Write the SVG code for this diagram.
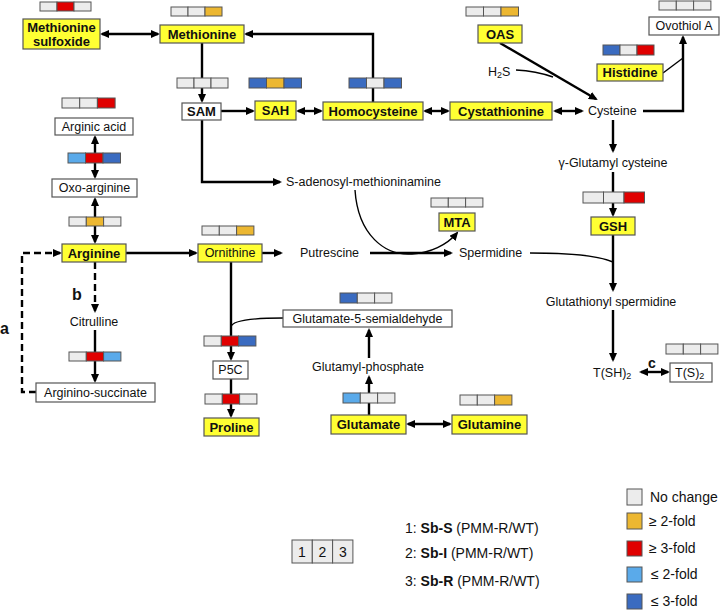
<svg xmlns="http://www.w3.org/2000/svg" width="720" height="612" viewBox="0 0 720 612">
<defs>
<style>
text{font-family:"Liberation Sans",Arial,sans-serif;fill:#111}
.lab{font-size:13px;font-weight:bold;text-anchor:middle;dominant-baseline:central}
.pl{font-size:12.5px;dominant-baseline:central}
.y{fill:#ffff33;stroke:#555;stroke-width:1.2}
.w{fill:#fff;stroke:#555;stroke-width:1.2}
.c{fill:none;stroke:#000;stroke-width:2.4}
.t{fill:none;stroke:#000;stroke-width:1.4}
.d{fill:none;stroke:#000;stroke-width:2.4;stroke-dasharray:7,4}
.g{fill:#ececec;stroke:#555;stroke-width:1}
.o{fill:#ecb731;stroke:#555;stroke-width:1}
.r{fill:#e00000;stroke:#555;stroke-width:1}
.lb{fill:#5aaaea;stroke:#555;stroke-width:1}
.db{fill:#3a6bc0;stroke:#555;stroke-width:1}
.lg{font-size:14px;dominant-baseline:central}
</style>
<marker id="ah" markerWidth="9" markerHeight="8" refX="7" refY="4" orient="auto-start-reverse" markerUnits="userSpaceOnUse">
<path d="M0,0 L9,4 L0,8 z" fill="#000"/>
</marker>
</defs>

<g id="connectors">
<path class="c" d="M102,34 H158" marker-start="url(#ah)" marker-end="url(#ah)"/>
<path class="c" d="M373,102 V34 H246" marker-end="url(#ah)"/>
<path class="c" d="M202,43 V101" marker-end="url(#ah)"/>
<path class="c" d="M221,111 H253" marker-end="url(#ah)"/>
<path class="c" d="M298,111 H321" marker-start="url(#ah)" marker-end="url(#ah)"/>
<path class="c" d="M425,111 H448" marker-start="url(#ah)" marker-end="url(#ah)"/>
<path class="c" d="M555,111 H582" marker-start="url(#ah)" marker-end="url(#ah)"/>
<path class="c" d="M500,43 L596,99" marker-end="url(#ah)"/>
<path class="t" d="M516,70 Q536,71 553,77"/>
<path class="c" d="M643,111 H683 V37" marker-end="url(#ah)"/>
<path class="t" d="M663,73 L683,58"/>
<path class="c" d="M613,120 V151" marker-end="url(#ah)"/>
<path class="c" d="M613,172 V215" marker-end="url(#ah)"/>
<path class="c" d="M613,235 V290" marker-end="url(#ah)"/>
<path class="t" d="M530,253 Q592,253 613,262"/>
<path class="c" d="M613,310 V360" marker-end="url(#ah)"/>
<path class="c" d="M641,372 H668" marker-start="url(#ah)" marker-end="url(#ah)"/>
<path class="c" d="M95,137 V177" marker-start="url(#ah)" marker-end="url(#ah)"/>
<path class="c" d="M95,199 V242" marker-start="url(#ah)" marker-end="url(#ah)"/>
<path class="d" d="M36,392 H22 V253 H60" marker-end="url(#ah)"/>
<path class="d" d="M95,262 V311" marker-end="url(#ah)"/>
<path class="c" d="M95,330 V381" marker-end="url(#ah)"/>
<path class="c" d="M126,253 H196" marker-end="url(#ah)"/>
<path class="c" d="M262,253 H281" marker-end="url(#ah)"/>
<path class="c" d="M370,253 H451" marker-end="url(#ah)"/>
<path class="c" d="M202,120 V182 H280" marker-end="url(#ah)"/>
<path class="t" d="M355,190 C358,235 385,256 412,254 C430,253 447,245 457,233" marker-end="url(#ah)"/>
<path class="c" d="M231,262 V359" marker-end="url(#ah)"/>
<path class="t" d="M283,318 Q232,318 231,327"/>
<path class="c" d="M231,379 V416" marker-end="url(#ah)"/>
<path class="c" d="M369,358 V330" marker-end="url(#ah)"/>
<path class="c" d="M369,415 V377" marker-end="url(#ah)"/>
<path class="c" d="M408,424 H450" marker-start="url(#ah)" marker-end="url(#ah)"/>
</g>

<g id="bars">
<g id="bar-metso"><rect class="g" x="40" y="2" width="17" height="9"/><rect class="r" x="57" y="2" width="17" height="9"/><rect class="g" x="74" y="2" width="17" height="9"/></g>
<g id="bar-met"><rect class="g" x="171" y="7" width="17" height="9"/><rect class="g" x="188" y="7" width="17" height="9"/><rect class="o" x="205" y="7" width="17" height="9"/></g>
<g id="bar-sam"><rect class="g" x="177" y="78" width="17" height="10"/><rect class="g" x="194" y="78" width="17" height="10"/><rect class="g" x="211" y="78" width="17" height="10"/></g>
<g id="bar-sah"><rect class="db" x="249" y="78" width="17.5" height="10"/><rect class="o" x="266.5" y="78" width="17.5" height="10"/><rect class="db" x="284" y="78" width="17.5" height="10"/></g>
<g id="bar-hcy"><rect class="db" x="349" y="78" width="17.5" height="10"/><rect class="g" x="366.5" y="78" width="17.5" height="10"/><rect class="db" x="384" y="78" width="17.5" height="10"/></g>
<g id="bar-oas"><rect class="g" x="466" y="7" width="17.5" height="9"/><rect class="g" x="483.5" y="7" width="17.5" height="9"/><rect class="o" x="501" y="7" width="17.5" height="9"/></g>
<g id="bar-his"><rect class="db" x="603" y="45" width="17" height="10"/><rect class="g" x="620" y="45" width="17" height="10"/><rect class="r" x="637" y="45" width="17" height="10"/></g>
<g id="bar-ovo"><rect class="g" x="659" y="1" width="17.3" height="9"/><rect class="g" x="676.3" y="1" width="17.3" height="9"/><rect class="g" x="693.6" y="1" width="17.3" height="9"/></g>
<g id="bar-arga"><rect class="g" x="62" y="98" width="17.7" height="10"/><rect class="g" x="79.7" y="98" width="17.7" height="10"/><rect class="r" x="97.4" y="98" width="17.7" height="10"/></g>
<g id="bar-oxo1"><rect class="lb" x="68" y="153" width="17.5" height="10"/><rect class="r" x="85.5" y="153" width="17.5" height="10"/><rect class="db" x="103" y="153" width="17.5" height="10"/></g>
<g id="bar-oxo2"><rect class="g" x="69" y="217" width="17.3" height="9"/><rect class="o" x="86.3" y="217" width="17.3" height="9"/><rect class="g" x="103.6" y="217" width="17.3" height="9"/></g>
<g id="bar-cit"><rect class="g" x="69" y="352" width="17.3" height="9"/><rect class="r" x="86.3" y="352" width="17.3" height="9"/><rect class="lb" x="103.6" y="352" width="17.3" height="9"/></g>
<g id="bar-orn"><rect class="g" x="202" y="226" width="17.3" height="9"/><rect class="g" x="219.3" y="226" width="17.3" height="9"/><rect class="o" x="236.6" y="226" width="17.3" height="9"/></g>
<g id="bar-mta"><rect class="g" x="431" y="198" width="17.3" height="9"/><rect class="g" x="448.3" y="198" width="17.3" height="9"/><rect class="g" x="465.6" y="198" width="17.3" height="9"/></g>
<g id="bar-gsh"><rect class="g" x="583" y="192" width="20.5" height="11"/><rect class="g" x="603.5" y="192" width="20.5" height="11"/><rect class="r" x="624" y="192" width="20.5" height="11"/></g>
<g id="bar-g5s"><rect class="db" x="340" y="293" width="17.3" height="10"/><rect class="g" x="357.3" y="293" width="17.3" height="10"/><rect class="g" x="374.6" y="293" width="17.3" height="10"/></g>
<g id="bar-p5c1"><rect class="g" x="204" y="336" width="17.3" height="10"/><rect class="r" x="221.3" y="336" width="17.3" height="10"/><rect class="db" x="238.6" y="336" width="17.3" height="10"/></g>
<g id="bar-p5c2"><rect class="g" x="205" y="394" width="17.3" height="10"/><rect class="r" x="222.3" y="394" width="17.3" height="10"/><rect class="g" x="239.6" y="394" width="17.3" height="10"/></g>
<g id="bar-glu"><rect class="lb" x="343" y="393" width="17.3" height="10"/><rect class="g" x="360.3" y="393" width="17.3" height="10"/><rect class="g" x="377.6" y="393" width="17.3" height="10"/></g>
<g id="bar-gln"><rect class="g" x="460" y="395" width="17.3" height="10"/><rect class="g" x="477.3" y="395" width="17.3" height="10"/><rect class="o" x="494.6" y="395" width="17.3" height="10"/></g>
<g id="bar-ts2"><rect class="g" x="666" y="344" width="17.3" height="10"/><rect class="g" x="683.3" y="344" width="17.3" height="10"/><rect class="g" x="700.6" y="344" width="17.3" height="10"/></g>
</g>

<g id="methionine-sulfoxide"><rect class="y" x="23" y="19" width="77" height="30"/><text class="lab" x="61.5" y="27.5">Methionine</text><text class="lab" x="61.5" y="41.5">sulfoxide</text></g>
<g id="methionine"><rect class="y" x="160" y="25" width="84" height="18"/><text class="lab" x="202" y="34">Methionine</text></g>
<g id="sam"><rect class="w" x="182" y="103" width="39" height="17"/><text class="lab" x="201.5" y="111.5">SAM</text></g>
<g id="sah"><rect class="y" x="255" y="101" width="41" height="19"/><text class="lab" x="275.5" y="110.5">SAH</text></g>
<g id="homocysteine"><rect class="y" x="323" y="102" width="100" height="18"/><text class="lab" x="373" y="111">Homocysteine</text></g>
<g id="cystathionine"><rect class="y" x="450" y="102" width="102" height="18"/><text class="lab" x="501" y="111">Cystathionine</text></g>
<g id="cysteine"><text class="pl" x="588" y="111">Cysteine</text></g>
<g id="oas"><rect class="y" x="478" y="25" width="44" height="18"/><text class="lab" x="500" y="34">OAS</text></g>
<g id="h2s"><text class="pl" x="488" y="72">H<tspan font-size="9" dy="3">2</tspan><tspan dy="-3">S</tspan></text></g>
<g id="histidine"><rect class="y" x="597" y="64" width="66" height="17"/><text class="lab" x="630" y="72.5">Histidine</text></g>
<g id="ovothiol-a"><rect class="w" x="649" y="17" width="70" height="18"/><text class="pl" x="684" y="26" text-anchor="middle">Ovothiol A</text></g>
<g id="glutamyl-cysteine"><text class="pl" x="613" y="163" text-anchor="middle">γ-Glutamyl cysteine</text></g>
<g id="gsh"><rect class="y" x="591" y="217" width="44" height="18"/><text class="lab" x="613" y="226">GSH</text></g>
<g id="glutathionyl-spermidine"><text class="pl" x="611" y="302" text-anchor="middle">Glutathionyl spermidine</text></g>
<g id="tsh2"><text class="pl" x="593" y="373">T(SH)<tspan font-size="9" dy="3">2</tspan></text></g>
<g id="ts2"><rect class="w" x="670" y="363" width="42" height="19"/><text class="pl" x="675" y="372.5">T(S)<tspan font-size="9" dy="3">2</tspan></text></g>
<g id="arginic-acid"><rect class="w" x="55" y="118" width="78" height="17"/><text class="pl" x="94" y="126.5" text-anchor="middle">Arginic acid</text></g>
<g id="oxo-arginine"><rect class="w" x="52" y="179" width="85" height="18"/><text class="pl" x="94.5" y="188" text-anchor="middle">Oxo-arginine</text></g>
<g id="arginine"><rect class="y" x="62" y="244" width="64" height="18"/><text class="lab" x="94" y="253">Arginine</text></g>
<g id="citrulline"><text class="pl" x="94" y="322" text-anchor="middle">Citrulline</text></g>
<g id="arginino-succinate"><rect class="w" x="36" y="383" width="119" height="19"/><text class="pl" x="95.5" y="392.5" text-anchor="middle">Arginino-succinate</text></g>
<g id="ornithine"><rect class="y" x="198" y="244" width="64" height="18"/><text class="pl" x="230" y="253" text-anchor="middle">Ornithine</text></g>
<g id="putrescine"><text class="pl" x="300" y="253">Putrescine</text></g>
<g id="spermidine"><text class="pl" x="459" y="253">Spermidine</text></g>
<g id="s-adenosyl-methioninamine"><text class="pl" x="286" y="182">S-adenosyl-methioninamine</text></g>
<g id="mta"><rect class="y" x="439" y="213" width="36" height="18"/><text class="lab" x="457" y="222">MTA</text></g>
<g id="glutamate-5-semialdehyde"><rect class="w" x="283" y="310" width="169" height="17"/><text class="pl" x="367.5" y="318.5" text-anchor="middle">Glutamate-5-semialdehyde</text></g>
<g id="p5c"><rect class="w" x="213" y="361" width="35" height="18"/><text class="pl" x="230.5" y="370" text-anchor="middle">P5C</text></g>
<g id="proline"><rect class="y" x="204" y="418" width="55" height="18"/><text class="lab" x="231.5" y="427">Proline</text></g>
<g id="glutamyl-phosphate"><text class="pl" x="368" y="367" text-anchor="middle">Glutamyl-phosphate</text></g>
<g id="glutamate"><rect class="y" x="331" y="415" width="75" height="19"/><text class="lab" x="368.5" y="424.5">Glutamate</text></g>
<g id="glutamine"><rect class="y" x="452" y="415" width="75" height="19"/><text class="lab" x="489.5" y="424.5">Glutamine</text></g>

<g id="labels">
<text x="0" y="334" font-size="16" font-weight="bold">a</text>
<text x="72" y="300" font-size="16" font-weight="bold">b</text>
<text x="648" y="368" font-size="14" font-weight="bold">c</text>
</g>

<g id="legend">
<rect class="g" x="292" y="540" width="20.3" height="23"/><rect class="g" x="312.3" y="540" width="20.3" height="23"/><rect class="g" x="332.6" y="540" width="20.3" height="23"/>
<text class="lg" x="302" y="552" text-anchor="middle" font-size="13">1</text>
<text class="lg" x="322.5" y="552" text-anchor="middle" font-size="13">2</text>
<text class="lg" x="343" y="552" text-anchor="middle" font-size="13">3</text>
<text class="lg" x="405" y="528">1:  <tspan font-weight="bold">Sb-S</tspan> (PMM-R/WT)</text>
<text class="lg" x="405" y="553">2:  <tspan font-weight="bold">Sb-I</tspan> (PMM-R/WT)</text>
<text class="lg" x="405" y="581">3:  <tspan font-weight="bold">Sb-R</tspan> (PMM-R/WT)</text>
<rect class="g" x="627" y="489" width="15" height="16" stroke="#999"/><text class="lg" x="650" y="497">No change</text>
<rect class="o" x="627" y="513" width="15" height="16" stroke="#999"/><text class="lg" x="649" y="521">≥ 2-fold</text>
<rect class="r" x="627" y="541" width="15" height="15" stroke="#999"/><text class="lg" x="649" y="548">≥ 3-fold</text>
<rect class="lb" x="627" y="567" width="15" height="15" stroke="#999"/><text class="lg" x="651" y="574">≤ 2-fold</text>
<rect class="db" x="627" y="594" width="15" height="15" stroke="#999"/><text class="lg" x="651" y="601">≤ 3-fold</text>
</g>
</svg>
